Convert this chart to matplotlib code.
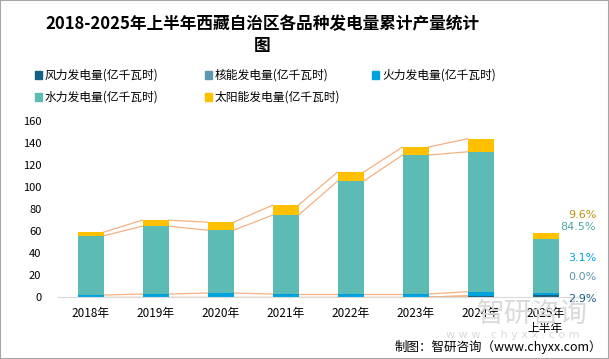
import numpy as np
import matplotlib.pyplot as plt
from matplotlib.patches import Rectangle

plt.rcParams['font.family'] = ['Noto Sans CJK SC', 'DejaVu Sans']

#
# data (亿千瓦时)
#
years = ['2018年', '2019年', '2020年', '2021年', '2022年', '2023年', '2024年', '2025年\n上半年']
wind = [0, 0, 0, 0, 0, 0, 1.0, 1.7]
nuclear = [0, 0, 0, 0, 0, 0, 0, 0]
fire = [1.8, 2.7, 3.6, 2.7, 2.7, 2.7, 3.8, 1.8]
hydro = [53.8, 61.7, 57.1, 71.7, 102.6, 126.3, 127.2, 49.3]
solar = [3.3, 5.5, 7.3, 9.1, 8.2, 7.3, 11.9, 5.6]
share_2025 = [2.9, 0.0, 3.1, 84.5, 9.6]

names = ['风力发电量(亿千瓦时)', '核能发电量(亿千瓦时)', '火力发电量(亿千瓦时)',
         '水力发电量(亿千瓦时)', '太阳能发电量(亿千瓦时)']
colors = ['#156082', '#5E97B0', '#00A2DE', '#5CBCB5', '#FFC000']
label_colors = ['#156082', '#5E97B0', '#00A2DE', '#4BAAA3', '#BF9000']

series = [wind, nuclear, fire, hydro, solar]
x = np.arange(len(years))
W = 0.4

fig = plt.figure(figsize=(6.09, 3.59), dpi=100)
ax = fig.add_axes([58 / 609, 62 / 359, 520 / 609, 176 / 359])

#
# stacked bars
#
bottom = np.zeros(len(years))
tops = []
for vals, c in zip(series, colors):
    vals = np.array(vals, dtype=float)
    ax.bar(x, vals, W, bottom=bottom, color=c, zorder=3)
    bottom = bottom + vals
    tops.append(bottom.copy())

#
# series lines between bars (2018-2024 only)
#
for lvl in tops:
    for i in range(len(years) - 2):
        ax.plot([x[i] + W / 2, x[i + 1] - W / 2], [lvl[i], lvl[i + 1]],
                color='#F4B183', lw=0.9, zorder=2)

#
# share labels next to the 2025 bar
#
pct_y = [-1.8, 18.2, 35.5, 63.8, 74.7]
last = x[-1]
for s, py, lc in zip(share_2025, pct_y, label_colors):
    ax.text(last + 0.78, py, '%.1f%%' % s, color=lc, fontsize=8,
            ha='right', va='center', family=['DejaVu Sans'], zorder=5)
ax.plot([last + W / 2, last + 0.42], [0.3, 0.3], color='#A6A6A6', lw=0.6, zorder=4)

ax.set_xlim(-0.5, len(years) - 0.5)
ax.set_ylim(0, 160)
ax.set_yticks(np.arange(0, 161, 20))
ax.set_xticks(x)
ax.set_xticklabels(years, fontsize=8.5)
ax.tick_params(axis='both', length=0)
ax.tick_params(axis='y', labelsize=8, pad=12)
ax.tick_params(axis='x', pad=7)
for sp in ['top', 'right', 'left']:
    ax.spines[sp].set_visible(False)
ax.spines['bottom'].set_color('#D9D9D9')
ax.spines['bottom'].set_zorder(4)

#
# title
#
fig.text(262 / 609, 1 - 24 / 359, '2018-2025年上半年西藏自治区各品种发电量累计产量统计',
         ha='center', va='center', fontsize=12, fontweight='bold')
fig.text(262 / 609, 1 - 46 / 359, '图', ha='center', va='center',
         fontsize=12, fontweight='bold')

#
# legend drawn by hand
#
leg_pos = [(35, 75), (205, 75), (372, 75), (35, 97), (205, 97)]
for (lx, ly), c, n in zip(leg_pos, colors, names):
    fig.patches.append(Rectangle((lx / 609, 1 - (ly + 3.5) / 359), 7 / 609, 7 / 359,
                                 transform=fig.transFigure, color=c))
    fig.text((lx + 10) / 609, 1 - ly / 359, n, ha='left', va='center', fontsize=8.5)

#
# watermark and source
#
fig.text(532 / 609, 1 - 314 / 359, '智研咨询', ha='center', va='center',
         fontsize=20, color='#DADADA', zorder=0)
fig.text(513 / 609, 1 - 335 / 359, 'w w w . c h y x x . c o m', ha='center', va='center',
         fontsize=8, color='#DADADA', zorder=0, family=['DejaVu Sans'])
fig.text(602 / 609, 1 - 347 / 359, '制图：智研咨询（www.chyxx.com）', ha='right',
         va='center', fontsize=9)

fig.patches.append(Rectangle((0, 0), 1, 1, transform=fig.transFigure, fill=False,
                             edgecolor='#A6A6A6', lw=1.5))

plt.savefig('out.png', dpi=100)
